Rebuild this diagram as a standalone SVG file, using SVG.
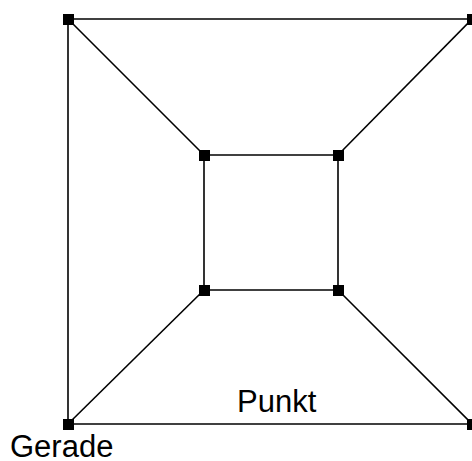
<svg xmlns="http://www.w3.org/2000/svg" width="472" height="461" viewBox="0 0 472 461">
<style>
.e{stroke:#000;stroke-width:1.6;fill:none}
.n{fill:#000}
.t{font-family:"Liberation Sans",Arial,sans-serif;font-size:31px;fill:#000}
</style>
<rect width="472" height="461" fill="#fff"/>
<g id="connectors">
<line class="e" x1="68" y1="19" x2="472" y2="19"/>
<line class="e" x1="68" y1="19" x2="68" y2="424"/>
<line class="e" x1="68" y1="424" x2="472" y2="424"/>
<line class="e" x1="68" y1="19" x2="204" y2="155"/>
<line class="e" x1="472" y1="19" x2="338" y2="155"/>
<line class="e" x1="68" y1="424" x2="204" y2="290"/>
<line class="e" x1="472" y1="424" x2="338" y2="290"/>
<line class="e" x1="204" y1="155" x2="338" y2="155"/>
<line class="e" x1="204" y1="290" x2="338" y2="290"/>
<line class="e" x1="204" y1="155" x2="204" y2="290"/>
<line class="e" x1="338" y1="155" x2="338" y2="290"/>
</g>
<g id="n1"><rect class="n" x="63" y="14" width="11" height="11"/></g>
<g id="n2"><rect class="n" x="467" y="14" width="11" height="11"/></g>
<g id="n3"><rect class="n" x="63" y="419" width="11" height="11"/></g>
<g id="n4"><rect class="n" x="467" y="419" width="11" height="11"/></g>
<g id="n5"><rect class="n" x="199" y="150" width="11" height="11"/></g>
<g id="n6"><rect class="n" x="333" y="150" width="11" height="11"/></g>
<g id="n7"><rect class="n" x="199" y="285" width="11" height="11"/></g>
<g id="n8"><rect class="n" x="333" y="285" width="11" height="11"/></g>
<text class="t" x="237" y="412">Punkt</text>
<text class="t" x="10" y="457">Gerade</text>
</svg>
